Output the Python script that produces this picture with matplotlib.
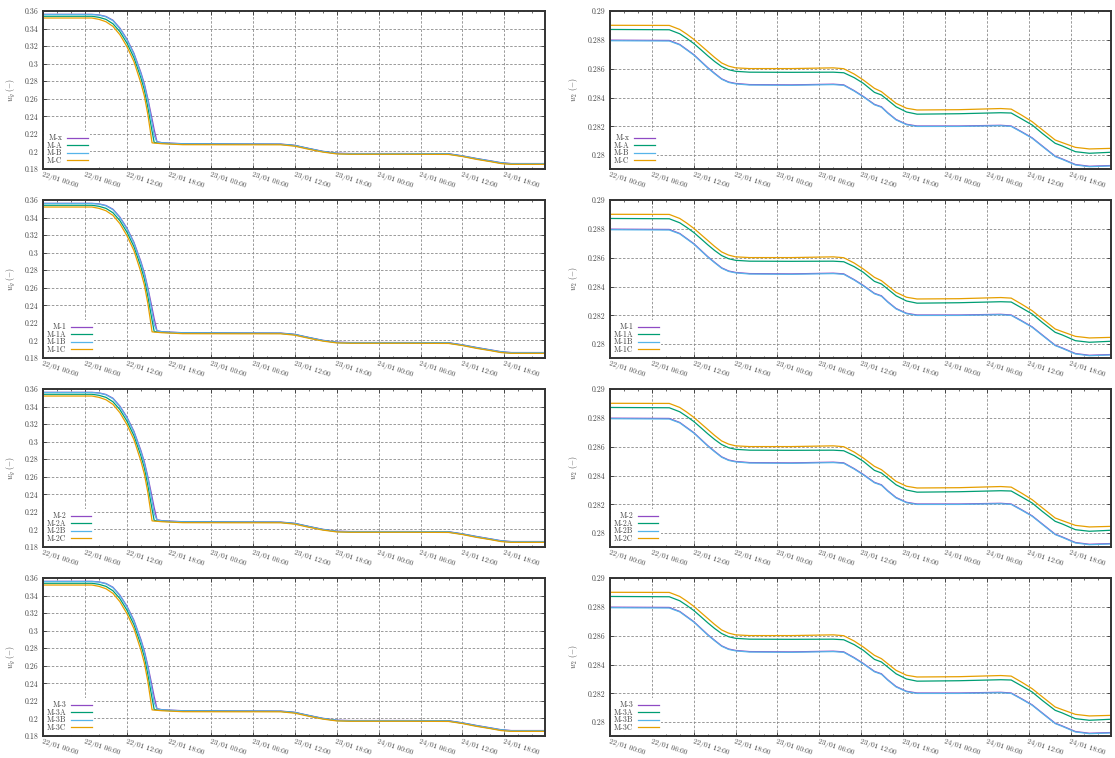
import numpy as np
import matplotlib
matplotlib.use('Agg')
import matplotlib.pyplot as plt
import matplotlib.dates as mdates
from matplotlib.ticker import FormatStrFormatter, MultipleLocator

plt.rcParams['font.family'] = ['cmr10', 'DejaVu Serif']
plt.rcParams['mathtext.fontset'] = 'cm'
plt.rcParams['axes.unicode_minus'] = False

# hours since 22/01 00:00
t_g = [0, 7, 8, 9, 10, 11, 12, 13, 14, 14.5, 15, 15.6, 15.9, 16.3, 17, 20, 28, 34,
       36, 38, 40, 42, 44, 52, 58, 60, 62, 64, 65.5, 67, 71.8]

# w_g curves (left column)
wg_x = [0.3562, 0.3562, 0.3556, 0.3538, 0.3495, 0.3405, 0.3280, 0.3120, 0.2900, 0.2770,
        0.2600, 0.2370, 0.2250, 0.2112, 0.2100, 0.2088, 0.2085, 0.2084,
        0.2070, 0.2035, 0.2002, 0.1980, 0.1976, 0.1976, 0.1974, 0.1950, 0.1920, 0.1893,
        0.1872, 0.1862, 0.1862]
wg_a = [0.3540, 0.3540, 0.3528, 0.3505, 0.3455, 0.3365, 0.3235, 0.3070, 0.2840, 0.2700,
        0.2500, 0.2230, 0.2103, 0.2098, 0.2093, 0.2083, 0.2081, 0.2080,
        0.2066, 0.2031, 0.1998, 0.1976, 0.1972, 0.1972, 0.1970, 0.1946, 0.1915, 0.1888,
        0.1867, 0.1857, 0.1857]
wg_b = [0.3560, 0.3560, 0.3553, 0.3534, 0.3490, 0.3398, 0.3272, 0.3110, 0.2885, 0.2750,
        0.2580, 0.2320, 0.2180, 0.2108, 0.2098, 0.2086, 0.2083, 0.2082,
        0.2068, 0.2033, 0.2000, 0.1978, 0.1974, 0.1974, 0.1972, 0.1948, 0.1918, 0.1891,
        0.1870, 0.1860, 0.1860]
wg_c = [0.3520, 0.3520, 0.3505, 0.3478, 0.3425, 0.3330, 0.3195, 0.3025, 0.2780, 0.2630,
        0.2420, 0.2098, 0.2095, 0.2093, 0.2088, 0.2077, 0.2076, 0.2076,
        0.2060, 0.2025, 0.1993, 0.1972, 0.1968, 0.1968, 0.1966, 0.1942, 0.1910, 0.1884,
        0.1862, 0.1853, 0.1853]

# w_2 curves (right column)
t_2 = [0, 8.5, 10, 11, 12, 13, 14, 15, 16, 17, 18, 20, 26, 32, 33.5, 35, 36.3, 37.9,
       38.9, 39.8, 41, 42.5, 44, 50, 56, 57.5, 59, 60.5, 62, 63.8, 64.8, 66.7, 68.7, 71.8]

w2_x = [0.28798, 0.28796, 0.28768, 0.28733, 0.28698, 0.28653, 0.28608, 0.28568, 0.28530,
        0.28508, 0.28498, 0.28490, 0.28488, 0.28493, 0.28488, 0.28448, 0.28408, 0.28353,
        0.28336, 0.28295, 0.28248, 0.28215, 0.28203, 0.28203, 0.28208, 0.28203, 0.28163,
        0.28121, 0.28063, 0.27994, 0.27975, 0.27936, 0.27924, 0.27929]
w2_a = [0.28872, 0.28870, 0.28842, 0.28810, 0.28775, 0.28733, 0.28690, 0.28650, 0.28615,
        0.28593, 0.28582, 0.28576, 0.28575, 0.28576, 0.28572, 0.28538, 0.28499, 0.28436,
        0.28418, 0.28383, 0.28336, 0.28300, 0.28285, 0.28288, 0.28295, 0.28293, 0.28252,
        0.28210, 0.28150, 0.28083, 0.28065, 0.28025, 0.28014, 0.28021]
w2_b = [0.28794, 0.28792, 0.28765, 0.28730, 0.28695, 0.28650, 0.28605, 0.28565, 0.28527,
        0.28505, 0.28495, 0.28487, 0.28485, 0.28490, 0.28485, 0.28445, 0.28405, 0.28350,
        0.28333, 0.28292, 0.28245, 0.28212, 0.28200, 0.28200, 0.28205, 0.28200, 0.28160,
        0.28118, 0.28060, 0.27991, 0.27972, 0.27933, 0.27921, 0.27926]
w2_c = [0.28901, 0.28900, 0.28872, 0.28840, 0.28804, 0.28762, 0.28720, 0.28678, 0.28640,
        0.28618, 0.28606, 0.28601, 0.28601, 0.28606, 0.28600, 0.28563, 0.28522, 0.28464,
        0.28441, 0.28406, 0.28360, 0.28326, 0.28314, 0.28316, 0.28324, 0.28320, 0.28278,
        0.28233, 0.28175, 0.28106, 0.28088, 0.28055, 0.28044, 0.28048]

row_labels = [['M-x', 'M-A', 'M-B', 'M-C'],
              ['M-1', 'M-1A', 'M-1B', 'M-1C'],
              ['M-2', 'M-2A', 'M-2B', 'M-2C'],
              ['M-3', 'M-3A', 'M-3B', 'M-3C']]

colors = ['#8f4ac4', '#009e73', '#56b4e9', '#e69f00']

start = np.datetime64('2021-01-22T00:00')


def to_time(hours):
    return start + (np.array(hours) * 3600).astype('timedelta64[s]')


W, H = 1115, 758
fig = plt.figure(figsize=(W / 100, H / 100), dpi=100)

text_col = '#444444'
fs = 5.6


def style_axes(ax, ylo, yhi, ystep, ylabel):
    ax.set_xlim(to_time([0])[0], to_time([71.8])[0])
    ax.set_ylim(ylo, yhi)
    ax.xaxis.set_major_locator(mdates.HourLocator(byhour=range(0, 24, 6)))
    ax.xaxis.set_minor_locator(mdates.HourLocator(byhour=range(0, 24, 2)))
    ax.xaxis.set_major_formatter(mdates.DateFormatter('%d/%m %H:%M'))
    ax.yaxis.set_major_locator(MultipleLocator(ystep))
    ax.yaxis.set_major_formatter(FormatStrFormatter('%g'))
    ax.tick_params(which='both', direction='in', top=True, right=True,
                   labelsize=fs, labelcolor=text_col, color='#333333')
    ax.tick_params(which='major', length=3, width=0.6, pad=3)
    ax.tick_params(axis='x', which='major', pad=2, labelsize=5.3)
    ax.tick_params(which='minor', length=1.6, width=0.5)
    for lab in ax.get_xticklabels():
        lab.set_rotation(-18)
        lab.set_ha('left')
        lab.set_va('top')
        lab.set_rotation_mode('anchor')
    ax.grid(True, which='major', color='#8a8a8a', linestyle=(0, (3, 2)), linewidth=0.6)
    for sp in ax.spines.values():
        sp.set_color('#333333')
        sp.set_linewidth(1.4)
    ax.set_ylabel(ylabel, fontsize=fs, color=text_col, labelpad=6)


def add_legend(ax):
    # with markerfirst=False the labels end up right-justified next to the samples
    leg = ax.legend(loc='lower left', markerfirst=False, fontsize=fs, handlelength=2.6,
                    handletextpad=0.6, labelspacing=-0.1, borderaxespad=0.15,
                    borderpad=0.35, fancybox=False, framealpha=1, edgecolor='none',
                    facecolor='white')
    for t in leg.get_texts():
        t.set_color(text_col)
    return leg


col_x = [43, 610]
col_w = [502, 501]
row_top = [11, 200, 389, 578]
row_h = 158

for r in range(4):
    bottom = 1 - (row_top[r] + row_h) / H
    height = row_h / H

    ax = fig.add_axes([col_x[0] / W, bottom, col_w[0] / W, height])
    for vals, lab, c in zip([wg_x, wg_a, wg_b, wg_c], row_labels[r], colors):
        ax.plot(to_time(t_g), vals, color=c, lw=0.9, label=lab)
    style_axes(ax, 0.18, 0.36, 0.02, r'$w_g\ (-)$')
    add_legend(ax)

    ax = fig.add_axes([col_x[1] / W, bottom, col_w[1] / W, height])
    for vals, lab, c in zip([w2_x, w2_a, w2_b, w2_c], row_labels[r], colors):
        ax.plot(to_time(t_2), vals, color=c, lw=0.9, label=lab)
    style_axes(ax, 0.27905, 0.29, 0.002, r'$w_2\ (-)$')
    add_legend(ax)

fig.savefig('out.png', dpi=100)
